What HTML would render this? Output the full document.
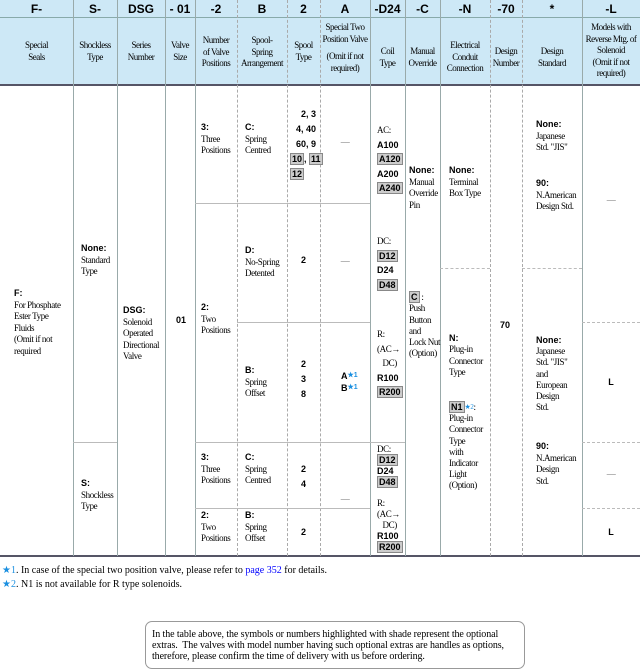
<!DOCTYPE html>
<html><head><meta charset="utf-8"><style>
body{margin:0;width:640px;height:671px;background:#fff;position:relative;overflow:hidden;font-family:"Liberation Serif",serif;color:#000}
.a{position:absolute}
.hd{position:absolute;top:0;left:0;width:640px;height:85px;background:#cde8f6}
.v{position:absolute;width:0;border-left:1px solid #9aa}
.vd{position:absolute;width:0;border-left:1px dashed #aaa}
.h{position:absolute;height:0;border-top:1px solid #bbb}
.hd2{position:absolute;height:0;border-top:1px dashed #bbb}
.c{position:absolute;font:bold 12px "Liberation Sans",sans-serif;text-align:center;top:2px}
.t{position:absolute;font-size:9px;line-height:11.5px;text-align:center;white-space:nowrap;letter-spacing:-0.5px}
.s{position:absolute;font-size:9px;line-height:11.5px;white-space:nowrap;letter-spacing:-0.4px}
.b{font-family:"Liberation Sans",sans-serif;font-weight:bold;font-size:9px;letter-spacing:0}
.sh{background:#ccc;border:1px solid #888;padding:0 1px}
.bl{color:#1a8fe0;font-size:7px;vertical-align:top}
</style></head><body>
<div class="hd"></div>
<div class="h" style="left:0;top:17px;width:640px;border-top:1px solid #8aa"></div>
<div class="a" style="left:0;top:84px;width:640px;height:2px;background:#556"></div>
<div class="a" style="left:0;top:555px;width:640px;height:2px;background:#556"></div>
<div class="v" style="left:73px;top:0;height:556px"></div>
<div class="v" style="left:117px;top:0;height:556px"></div>
<div class="v" style="left:165px;top:0;height:556px"></div>
<div class="v" style="left:195px;top:0;height:556px"></div>
<div class="vd" style="left:237px;top:0;height:556px"></div>
<div class="vd" style="left:287px;top:0;height:556px"></div>
<div class="vd" style="left:320px;top:0;height:556px"></div>
<div class="v" style="left:370px;top:0;height:556px"></div>
<div class="v" style="left:405px;top:0;height:556px"></div>
<div class="v" style="left:440px;top:0;height:556px"></div>
<div class="vd" style="left:490px;top:0;height:556px"></div>
<div class="vd" style="left:522px;top:0;height:556px"></div>
<div class="v" style="left:582px;top:0;height:556px"></div>
<div class="h" style="left:195px;top:203px;width:175px"></div>
<div class="h" style="left:237px;top:322px;width:133px"></div>
<div class="h" style="left:73px;top:442px;width:44px"></div>
<div class="h" style="left:195px;top:442px;width:210px"></div>
<div class="h" style="left:195px;top:508px;width:175px"></div>
<div class="hd2" style="left:440px;top:268px;width:50px"></div>
<div class="hd2" style="left:522px;top:268px;width:60px"></div>
<div class="hd2" style="left:582px;top:322px;width:58px"></div>
<div class="hd2" style="left:582px;top:442px;width:58px"></div>
<div class="hd2" style="left:582px;top:508px;width:58px"></div>
<div class="c" style="left:0;width:73px">F-</div>
<div class="c" style="left:73px;width:44px">S-</div>
<div class="c" style="left:117px;width:48px">DSG</div>
<div class="c" style="left:165px;width:30px">- 01</div>
<div class="c" style="left:195px;width:42px">-2</div>
<div class="c" style="left:237px;width:50px">B</div>
<div class="c" style="left:287px;width:33px">2</div>
<div class="c" style="left:320px;width:50px">A</div>
<div class="c" style="left:370px;width:35px">-D24</div>
<div class="c" style="left:405px;width:35px">-C</div>
<div class="c" style="left:440px;width:50px">-N</div>
<div class="c" style="left:490px;width:32px">-70</div>
<div class="c" style="left:522px;width:60px">*</div>
<div class="c" style="left:582px;width:58px">-L</div>
<div class="t" style="left:0;width:73px;top:40px">Special<br>Seals</div>
<div class="t" style="left:73px;width:44px;top:40px">Shockless<br>Type</div>
<div class="t" style="left:117px;width:48px;top:40px">Series<br>Number</div>
<div class="t" style="left:165px;width:30px;top:40px">Valve<br>Size</div>
<div class="t" style="left:195px;width:42px;top:35px">Number<br>of Valve<br>Positions</div>
<div class="t" style="left:237px;width:50px;top:35px">Spool-<br>Spring<br>Arrangement</div>
<div class="t" style="left:287px;width:33px;top:40px">Spool<br>Type</div>
<div class="t" style="left:320px;width:50px;top:22px">Special Two<br>Position Valve<br><div style="height:6px"></div>(Omit if not<br>required)</div>
<div class="t" style="left:370px;width:35px;top:46px">Coil<br>Type</div>
<div class="t" style="left:405px;width:35px;top:46px">Manual<br>Override</div>
<div class="t" style="left:440px;width:50px;top:40px">Electrical<br>Conduit<br>Connection</div>
<div class="t" style="left:490px;width:32px;top:46px">Design<br>Number</div>
<div class="t" style="left:522px;width:60px;top:46px">Design<br>Standard</div>
<div class="t" style="left:582px;width:58px;top:22px">Models with<br>Reverse Mtg. of<br>Solenoid<br>(Omit if not<br>required)</div>
<div class="s" style="left:14px;top:288px"><span class="b">F:</span><br>For Phosphate<br>Ester Type<br>Fluids<br>(Omit if not<br>required</div>
<div class="s" style="left:81px;top:243px"><span class="b">None:</span><br>Standard<br>Type</div>
<div class="s" style="left:81px;top:478px"><span class="b">S:</span><br>Shockless<br>Type</div>
<div class="s" style="left:123px;top:305px"><span class="b">DSG:</span><br>Solenoid<br>Operated<br>Directional<br>Valve</div>
<div class="a b" style="left:176px;top:315px">01</div>
<div class="s" style="left:201px;top:122px"><span class="b">3:</span><br>Three<br>Positions</div>
<div class="s" style="left:201px;top:302px"><span class="b">2:</span><br>Two<br>Positions</div>
<div class="s" style="left:201px;top:452px"><span class="b">3:</span><br>Three<br>Positions</div>
<div class="s" style="left:201px;top:510px"><span class="b">2:</span><br>Two<br>Positions</div>
<div class="s" style="left:245px;top:122px"><span class="b">C:</span><br>Spring<br>Centred</div>
<div class="s" style="left:245px;top:245px"><span class="b">D:</span><br>No-Spring<br>Detented</div>
<div class="s" style="left:245px;top:365px"><span class="b">B:</span><br>Spring<br>Offset</div>
<div class="s" style="left:245px;top:452px"><span class="b">C:</span><br>Spring<br>Centred</div>
<div class="s" style="left:245px;top:510px"><span class="b">B:</span><br>Spring<br>Offset</div>
<div class="s b" style="left:290px;top:107px;line-height:15px;width:26px;text-align:right">2, 3<br>4, 40<br>60, 9</div>
<div class="s b" style="left:290px;top:152px;line-height:15px"><span class="sh">10</span>, <span class="sh">11</span><br><span class="sh">12</span></div>
<div class="s b" style="left:287px;top:255px;width:33px;text-align:center">2</div>
<div class="s b" style="left:287px;top:357px;width:33px;text-align:center;line-height:15px">2<br>3<br>8</div>
<div class="s b" style="left:287px;top:462px;width:33px;text-align:center;line-height:15px">2<br>4</div>
<div class="s b" style="left:287px;top:527px;width:33px;text-align:center">2</div>
<div class="s" style="left:320px;width:50px;text-align:center;top:137px;color:#666">—</div>
<div class="s" style="left:320px;width:50px;text-align:center;top:256px;color:#666">—</div>
<div class="s b" style="left:341px;top:370px;line-height:12px">A<span class="bl">★1</span><br>B<span class="bl">★1</span></div>
<div class="s" style="left:320px;width:50px;text-align:center;top:494px;color:#666">—</div>
<div class="s" style="left:377px;top:123px;line-height:14.5px">AC:<br><span class="b">A100</span><br><span class="b sh">A120</span><br><span class="b">A200</span><br><span class="b sh">A240</span></div>
<div class="s" style="left:377px;top:234px;line-height:14.5px">DC:<br><span class="b sh">D12</span><br><span class="b">D24</span><br><span class="b sh">D48</span></div>
<div class="s" style="left:377px;top:327px;line-height:14.5px">R:<br>(AC→<br>&nbsp;&nbsp;&nbsp;DC)<br><span class="b">R100</span><br><span class="b sh">R200</span></div>
<div class="s" style="left:377px;top:444px;line-height:11px">DC:<br><span class="b sh">D12</span><br><span class="b">D24</span><br><span class="b sh">D48</span></div>
<div class="s" style="left:377px;top:498px;line-height:11px">R:<br>(AC→<br>&nbsp;&nbsp;&nbsp;DC)<br><span class="b">R100</span><br><span class="b sh">R200</span></div>
<div class="s" style="left:409px;top:165px"><span class="b">None:</span><br>Manual<br>Override<br>Pin</div>
<div class="s" style="left:409px;top:292px;line-height:11.3px"><span class="b sh">C</span> :<br>Push<br>Button<br>and<br>Lock Nut<br>(Option)</div>
<div class="s" style="left:449px;top:165px"><span class="b">None:</span><br>Terminal<br>Box Type</div>
<div class="s" style="left:449px;top:333px;line-height:11.3px"><span class="b">N:</span><br>Plug-in<br>Connector<br>Type</div>
<div class="s" style="left:449px;top:402px;line-height:11.2px"><span class="b sh">N1</span><span class="bl">★2</span>:<br>Plug-in<br>Connector<br>Type<br>with<br>Indicator<br>Light<br>(Option)</div>
<div class="a b" style="left:500px;top:320px">70</div>
<div class="s" style="left:536px;top:119px"><span class="b">None:</span><br>Japanese<br>Std. "JIS"</div>
<div class="s" style="left:536px;top:178px"><span class="b">90:</span><br>N.American<br>Design Std.</div>
<div class="s" style="left:536px;top:335px;line-height:11.2px"><span class="b">None:</span><br>Japanese<br>Std. "JIS"<br>and<br>European<br>Design<br>Std.</div>
<div class="s" style="left:536px;top:441px;line-height:11.5px"><span class="b">90:</span><br>N.American<br>Design<br>Std.</div>
<div class="s" style="left:582px;width:58px;text-align:center;top:195px;color:#666">—</div>
<div class="s b" style="left:582px;width:58px;text-align:center;top:377px">L</div>
<div class="s" style="left:582px;width:58px;text-align:center;top:469px;color:#666">—</div>
<div class="s b" style="left:582px;width:58px;text-align:center;top:527px">L</div>
<div class="a" style="left:2px;top:565px;font-size:10px"><span style="color:#1a8fe0">★1</span>. In case of the special two position valve, please refer to <span style="color:#00f">page 352</span> for details.</div>
<div class="a" style="left:2px;top:579px;font-size:10px"><span style="color:#1a8fe0">★2</span>. N1 is not available for R type solenoids.</div>
<div class="a" style="left:145px;top:621px;width:378px;height:46px;border:1px solid #999;border-radius:7px"></div>
<div class="a" style="left:152px;top:629px;font-size:10px;line-height:11px;white-space:nowrap;letter-spacing:-0.1px">In the table above, the symbols or numbers highlighted with shade represent the optional<br>extras.&nbsp; The valves with model number having such optional extras are handles as options,<br>therefore, please confirm the time of delivery with us before ordering.</div>
</body></html>
